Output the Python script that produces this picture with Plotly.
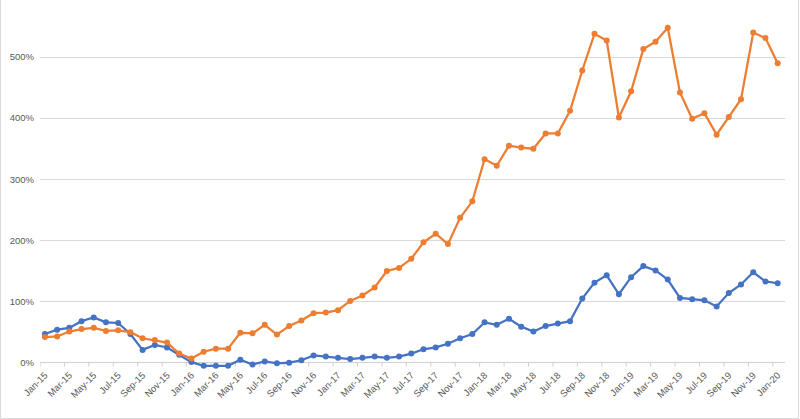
import plotly.graph_objects as go

months = ["Jan", "Feb", "Mar", "Apr", "May", "Jun", "Jul", "Aug", "Sep", "Oct", "Nov", "Dec"]
categories = [f"{m}-{y:02d}" for y in range(15, 20) for m in months] + ["Jan-20"]

blue = [47, 54, 57, 68, 74, 66, 65, 47, 21, 29, 25, 13,
        1, -5, -5, -5, 5, -3, 2, -1, 0, 4, 12, 10,
        8, 6, 8, 10, 8, 10, 15, 22, 25, 31, 40, 47,
        66, 62, 72, 59, 51, 60, 64, 68, 105, 131, 143, 112,
        140, 158, 151, 136, 106, 104, 102, 92, 114, 128, 148, 133,
        130]

orange = [42, 43, 51, 55, 57, 52, 53, 50, 40, 37, 33, 15,
          7, 18, 23, 23, 49, 48, 62, 46, 60, 69, 81, 82,
          86, 101, 110, 123, 150, 155, 170, 197, 211, 194, 237, 264,
          333, 322, 355, 352, 350, 375, 375, 412, 478, 538, 527, 401,
          444, 513, 525, 548, 442, 399, 408, 373, 402, 431, 540, 531,
          490]

y_ticks = [0, 100, 200, 300, 400, 500]
y_tick_labels = [f"{v}%" for v in y_ticks]

x = list(range(len(categories)))
tick_idx = x[::2]
tick_text = [categories[i] for i in tick_idx]

fig = go.Figure()
fig.add_trace(go.Scatter(x=x, y=blue, mode="lines+markers",
                         line=dict(color="#4472C4", width=2.25),
                         marker=dict(size=6, color="#4472C4"),
                         cliponaxis=False, name="Series 1"))
fig.add_trace(go.Scatter(x=x, y=orange, mode="lines+markers",
                         line=dict(color="#ED7D31", width=2.25),
                         marker=dict(size=6, color="#ED7D31"),
                         cliponaxis=False, name="Series 2"))

# small tick marks hanging below the 0% axis line
tick_shapes = [dict(type="line", xref="x", yref="y", ysizemode="pixel", yanchor=0,
                    x0=i - 0.4, x1=i - 0.4, y0=0, y1=-4,
                    line=dict(color="#d0d0d0", width=1), layer="below")
               for i in tick_idx]

fig.update_layout(
    width=800, height=419,
    margin=dict(l=40, r=15, t=2, b=52),
    paper_bgcolor="white", plot_bgcolor="white",
    showlegend=False,
    font=dict(family="Liberation Sans, Arial, sans-serif", size=9, color="#595959"),
    xaxis=dict(
        range=[-0.4, 60.6],
        tickmode="array", tickvals=tick_idx, ticktext=tick_text,
        tickangle=-45, ticks="", showgrid=False, zeroline=False,
        showline=False,
        tickfont=dict(size=9.5, color="#595959"),
    ),
    yaxis=dict(
        range=[-7, 590],
        tickmode="array", tickvals=y_ticks, ticktext=y_tick_labels,
        showgrid=True, gridcolor="#d9d9d9", gridwidth=1,
        zeroline=True, zerolinecolor="#d0d0d0", zerolinewidth=1,
        showline=False, ticks="",
        tickfont=dict(size=9.5, color="#595959"),
        ticklabelstandoff=5,
    ),
    shapes=[dict(type="rect", xref="paper", yref="paper",
                 x0=-39.5 / 745, x1=1 + 13.5 / 745, y0=-51.5 / 365, y1=1.2,
                 line=dict(color="#d9d9d9", width=1), fillcolor="rgba(0,0,0,0)")]
           + tick_shapes,
)

fig.write_html("out.html", config={"displayModeBar": False},
               post_script="document.body.style.margin='0';")
